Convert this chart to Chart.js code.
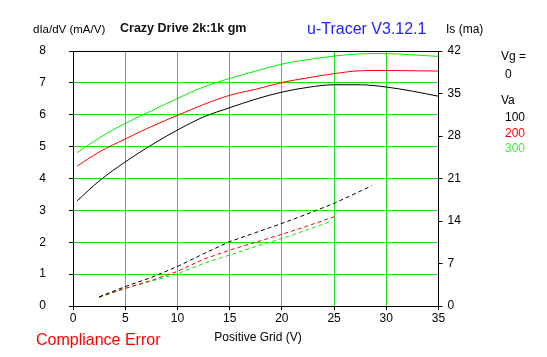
<!DOCTYPE html>
<html>
<head>
<meta charset="utf-8">
<script src="https://cdn.jsdelivr.net/npm/chart.js@4.4.1/dist/chart.umd.min.js"></script>
<style>
html,body{margin:0;padding:0;background:#fff;}
canvas{display:block;}
</style>
</head>
<body>
<canvas id="c" width="547" height="357"></canvas>
<script>
// ---- data ----
const gridV = [0.4, 2.5, 5, 7.5, 10, 12.5, 15, 17.5, 20, 22.5, 25, 27.5, 30, 32.5, 35];
const gm100 = [3.30, 3.92, 4.52, 5.05, 5.52, 5.93, 6.22, 6.49, 6.71, 6.86, 6.94, 6.94, 6.87, 6.74, 6.58];
const gm200 = [4.39, 4.83, 5.24, 5.63, 5.98, 6.32, 6.61, 6.80, 7.01, 7.16, 7.29, 7.38, 7.39, 7.38, 7.37];
const gm300 = [4.81, 5.27, 5.73, 6.12, 6.51, 6.87, 7.14, 7.37, 7.59, 7.73, 7.84, 7.91, 7.92, 7.88, 7.83];

const isV100 = [2.5, 5, 7.5, 10, 12.5, 15, 17.5, 20, 22.5, 25, 27.5, 28.6];
const is100  = [1.5, 3.2, 4.7, 6.5, 8.6, 10.6, 12.1, 13.6, 15.2, 16.9, 18.9, 19.8];
const isV200 = [2.5, 5, 7.5, 10, 12.5, 15, 17.5, 20, 22.5, 25, 25.3];
const is200  = [1.5, 2.9, 4.2, 5.7, 7.7, 9.2, 10.5, 11.8, 13.2, 14.7, 15.1];
const isV300 = [2.5, 5, 7.5, 10, 12.5, 15, 17.5, 20, 22.5, 24.8];
const is300  = [1.4, 2.9, 4.1, 5.3, 7.0, 8.4, 9.8, 11.1, 12.6, 14.0];

const xTicks = [0, 5, 10, 15, 20, 25, 30, 35];
const leftTicks = [0, 1, 2, 3, 4, 5, 6, 7, 8];
const rightTicks = [0, 7, 14, 21, 28, 35, 42];
const vaLabels = ['100', '200', '300'];

const BLACK = '#000000', RED = '#ff0000', GREEN = '#00ee00', GRID = '#1ee01e';
const FONT = '"Liberation Sans", Arial, sans-serif';

const pts = (xs, ys) => xs.map((x, i) => ({x: x, y: ys[i]}));

const textPlugin = {
  id: 'texts',
  afterDraw(chart) {
    const ctx = chart.ctx;
    const a = chart.chartArea;
    ctx.save();
    ctx.strokeStyle = BLACK; ctx.lineWidth = 1;
    ctx.beginPath();
    ctx.moveTo(Math.round(a.left)+0.5, Math.round(a.top)+0.5);
    ctx.lineTo(Math.round(a.right)+0.5, Math.round(a.top)+0.5);
    ctx.stroke();
    ctx.textBaseline = 'middle';
    const put = (t, x, y, font, color, align) => {
      ctx.font = font; ctx.fillStyle = color; ctx.textAlign = align || 'left';
      ctx.fillText(t, x, y);
    };
    put('dIa/dV (mA/V)', 33, 30, '11.5px ' + FONT, BLACK);
    put('Crazy Drive 2k:1k gm', 120, 29, 'bold 12.5px ' + FONT, '#111');
    put('u-Tracer V3.12.1', 307, 30, '16px ' + FONT, '#2222ff');
    put('Is (ma)', 446, 30, '12px ' + FONT, BLACK);
    put('Vg =', 501, 57, '12px ' + FONT, BLACK);
    put('0', 505, 75, '12px ' + FONT, BLACK);
    put('Va', 501, 101, '12px ' + FONT, BLACK);
    const cols = [BLACK, RED, '#44ee44'];
    vaLabels.forEach((l, i) => put(l, 505, 118 + i * 15.5, '12px ' + FONT, cols[i]));
    put('Positive Grid (V)', 258, 338, '12px ' + FONT, BLACK, 'center');
    put('Compliance Error', 36, 341, '16px ' + FONT, RED);
    ctx.restore();
  }
};

const solid = (data, color) => ({data, borderColor: color, borderWidth: 1, pointRadius: 0, cubicInterpolationMode: 'monotone', yAxisID: 'y', fill: false});
const dashed = (data, color) => ({data, borderColor: color, borderWidth: 1, borderDash: [4, 3], pointRadius: 0, tension: 0, yAxisID: 'y1', fill: false});

new Chart(document.getElementById('c'), {
  type: 'line',
  data: {
    datasets: [
      solid(pts(gridV, gm100), BLACK),
      solid(pts(gridV, gm200), RED),
      solid(pts(gridV, gm300), GREEN),
      dashed(pts(isV100, is100), BLACK),
      dashed(pts(isV200, is200), RED),
      dashed(pts(isV300, is300), GREEN)
    ]
  },
  options: {
    responsive: false,
    animation: false,
    devicePixelRatio: 1,
    layout: {padding: {top: 51, left: 0, right: 0, bottom: 0}},
    plugins: {legend: {display: false}, tooltip: {enabled: false}},
    scales: {
      x: {
        type: 'linear', min: 0, max: 35,
        afterBuildTicks: s => { s.ticks = xTicks.map(v => ({value: v})); },
        afterFit: s => { s.height = 51; },
        grid: {
          color: c => (c.tick && (c.tick.value === 0 || c.tick.value === 35)) ? 'rgba(0,0,0,0)' : GRID,
          tickColor: BLACK, tickLength: 4, lineWidth: 1
        },
        border: {color: BLACK, width: 1},
        ticks: {color: BLACK, font: {family: FONT, size: 12}, padding: 1, maxRotation: 0, autoSkip: false}
      },
      y: {
        type: 'linear', position: 'left', min: 0, max: 8,
        afterBuildTicks: s => { s.ticks = leftTicks.map(v => ({value: v})); },
        afterFit: s => { s.width = 73; },
        grid: {
          color: c => (c.tick && (c.tick.value === 0 || c.tick.value === 8)) ? 'rgba(0,0,0,0)' : GRID,
          tickColor: BLACK, tickLength: 4, lineWidth: 1
        },
        border: {color: BLACK, width: 1},
        ticks: {color: BLACK, font: {family: FONT, size: 12}, padding: 23, autoSkip: false}
      },
      y1: {
        type: 'linear', position: 'right', min: 0, max: 42,
        afterBuildTicks: s => { s.ticks = rightTicks.map(v => ({value: v})); },
        afterFit: s => { s.width = 547 - 438.5; },
        grid: {drawOnChartArea: false, tickColor: BLACK, tickLength: 4},
        border: {color: BLACK, width: 1},
        ticks: {color: BLACK, font: {family: FONT, size: 12}, padding: 5, autoSkip: false}
      }
    }
  },
  plugins: [textPlugin]
});
</script>
</body>
</html>
